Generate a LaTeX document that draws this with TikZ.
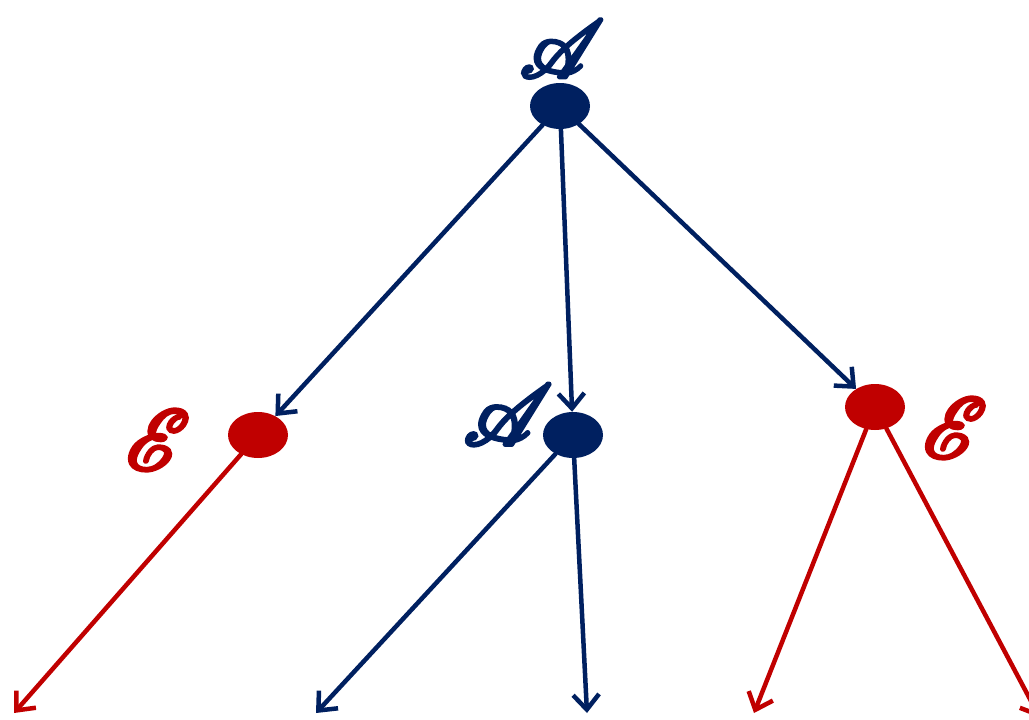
\documentclass[tikz,border=0pt]{standalone}
\usepackage{mathrsfs}
\usetikzlibrary{arrows.meta,shapes.geometric}
\definecolor{navy}{RGB}{0,32,96}
\definecolor{dred}{RGB}{192,0,0}
\newcommand{\boldscr}[2][60pt]{\resizebox{!}{#1}{\special{pdf:code 2 Tr 0.45 w}$\mathscr{#2}$\special{pdf:code 0 Tr}}}
\tikzset{
  dot/.style={ellipse,minimum width=60pt,minimum height=46pt,inner sep=0pt},
  navydot/.style={dot,fill=navy},
  reddot/.style={dot,fill=dred},
  edge/.style={line width=4.5pt,-{Straight Barb[length=15pt,width=26pt,line width=4.5pt]},line cap=round},
  lbl/.style={inner sep=0pt},
}
\begin{document}
\begin{tikzpicture}[x=1pt,y=-1pt]
\useasboundingbox (0,0) rectangle (1029,720);
\clip (0,0) rectangle (1029,720);
\node[navydot] (a1) at (560,106) {};
\node[reddot] (e1) at (258,435) {};
\node[navydot] (a2) at (573,435) {};
\node[reddot] (e2) at (875,407) {};
\coordinate (b1) at (14,713);
\coordinate (b2) at (316,713);
\coordinate (b3) at (587,713);
\coordinate (b4) at (754,713);
\coordinate (b5) at (1040,718);
\draw[edge,navy] (a1) -- (e1);
\draw[edge,navy] (a1) -- (a2);
\draw[edge,navy] (a1) -- (e2);
\draw[edge,dred] (e1) -- (b1);
\draw[edge,navy] (a2) -- (b2);
\draw[edge,navy] (a2) -- (b3);
\draw[edge,dred] (e2) -- (b4);
\draw[edge,dred] (e2) -- (b5);
\node[lbl,text=navy] (la1) at (562,49) {\boldscr[57pt]{A}};
\node[lbl,text=navy] (la2) at (508,415) {\boldscr{A}};
\node[lbl,text=dred] (le1) at (158,440) {\boldscr{E}};
\node[lbl,text=dred] (le2) at (955,428) {\boldscr{E}};
\end{tikzpicture}
\end{document}
